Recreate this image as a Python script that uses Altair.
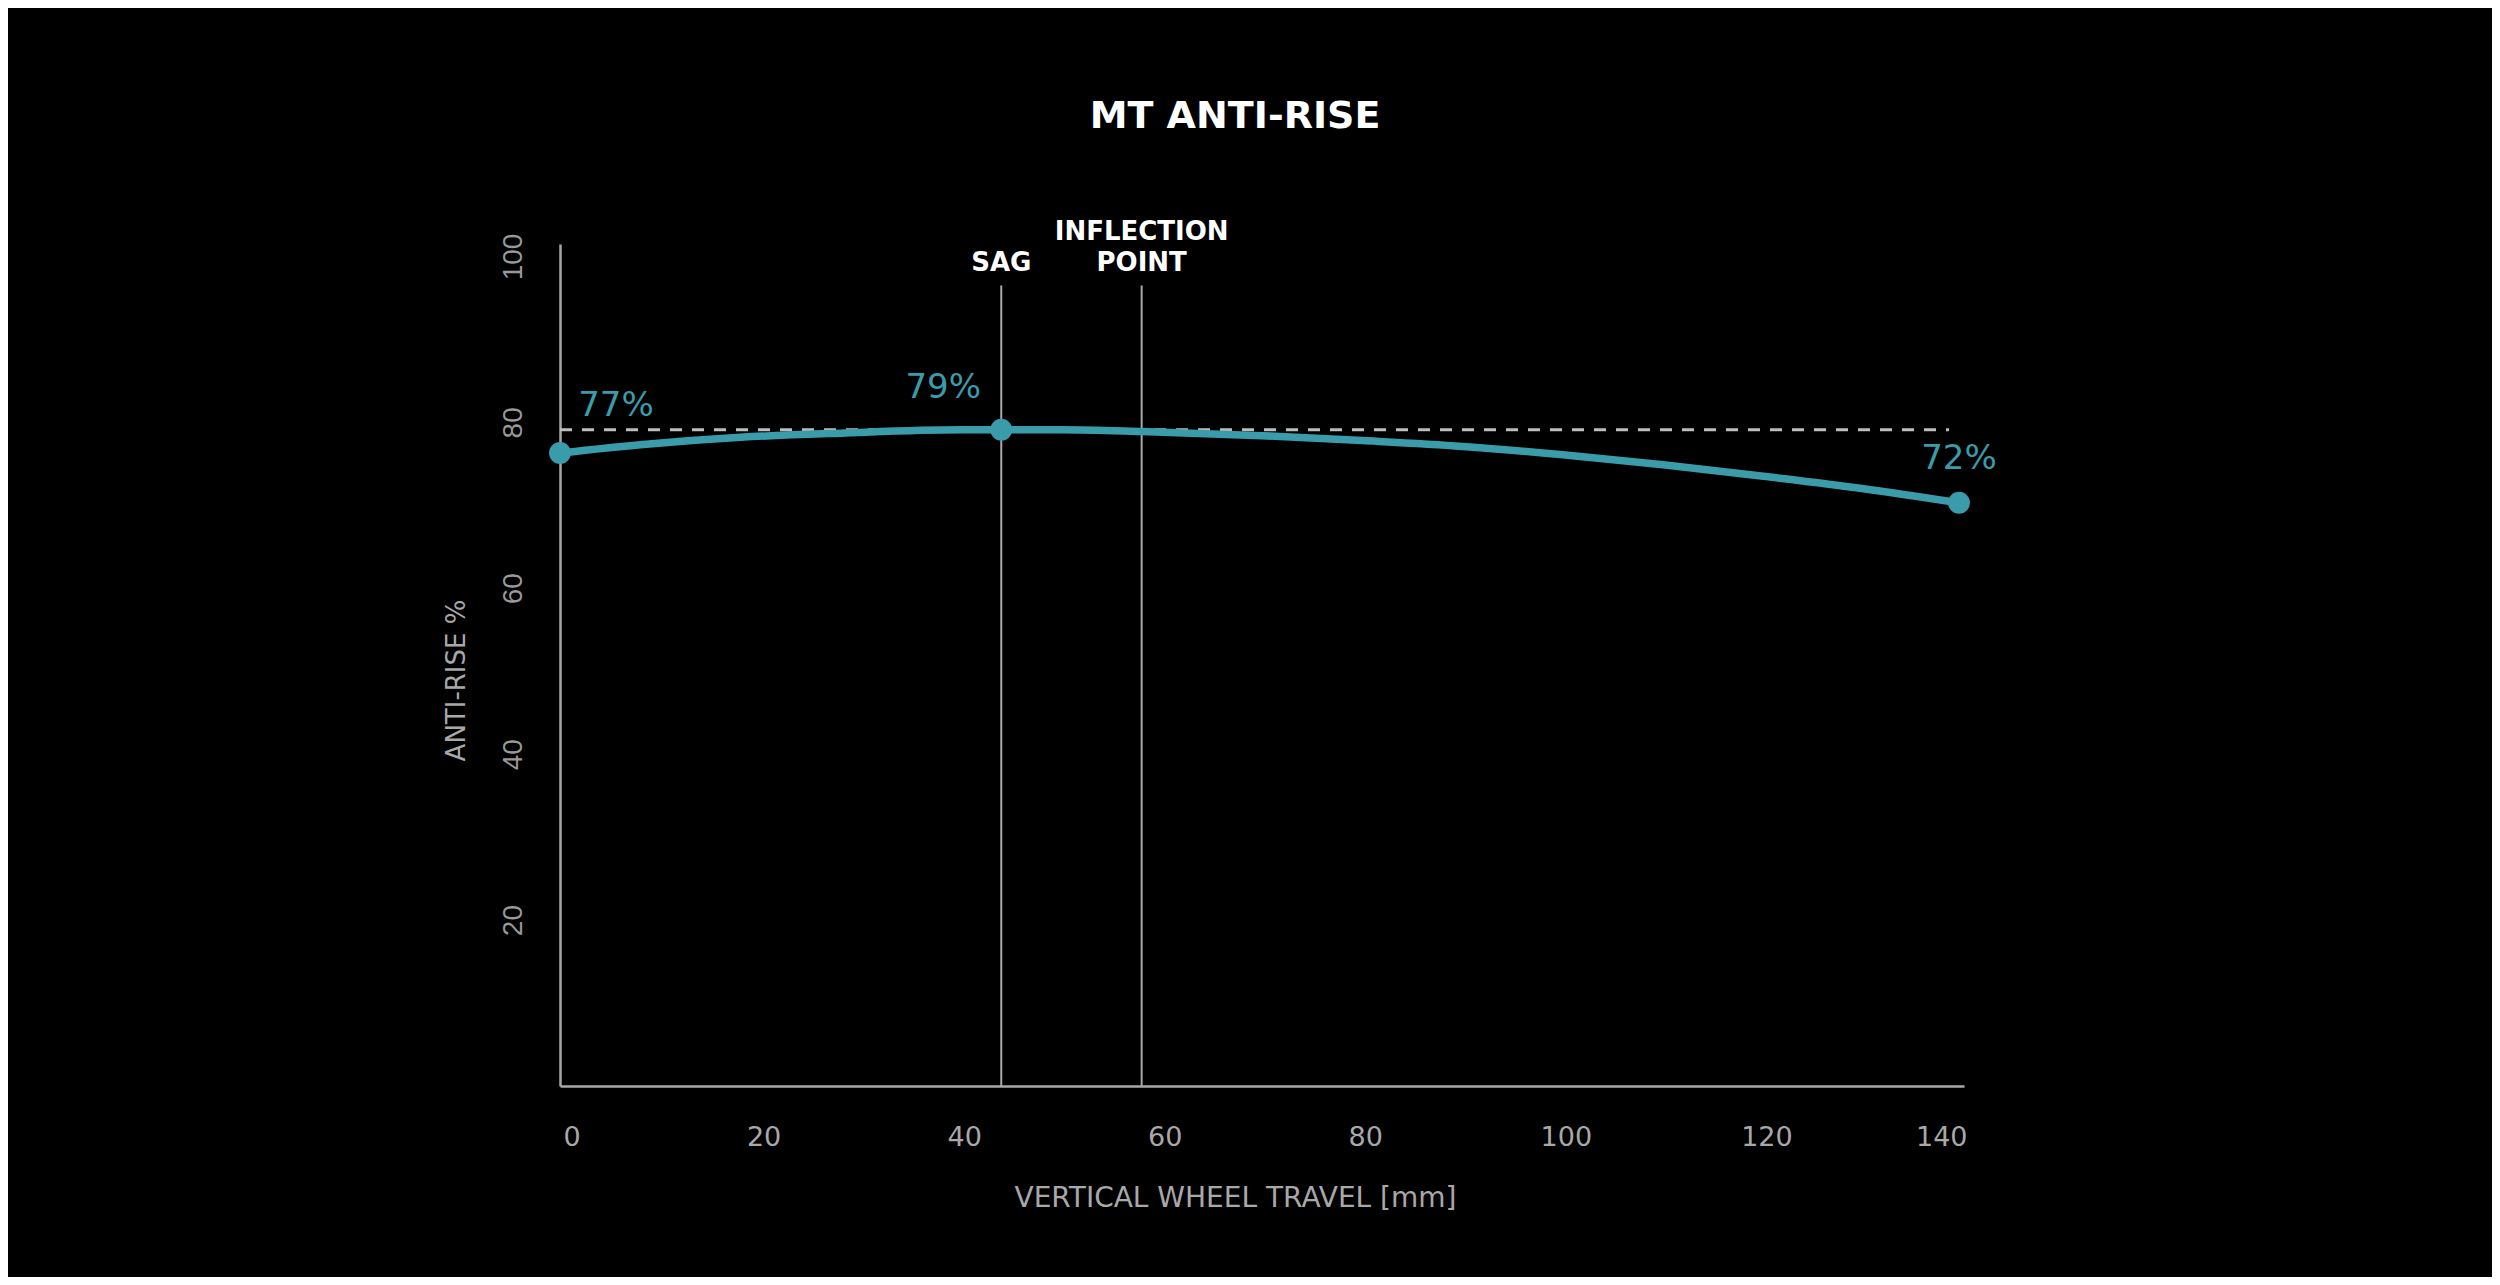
import altair as alt
import pandas as pd

# ---- data ----
travel = [0, 8, 18, 28, 40, 44, 50, 58, 70, 80, 90, 100, 110, 120, 130, 139.5]
anti_rise = [76.3, 77.3, 78.2, 78.7, 79.1, 79.1, 79.1, 78.9, 78.4, 77.8, 77.1, 76.1, 74.9, 73.5, 72.0, 70.3]

key_travel = [0, 44, 139.5]
key_value = [76.3, 79.1, 70.3]
key_label = ["77%", "79%", "72%"]

marker_travel = [44, 58]
marker_top = [96.5, 96.5]
marker_line1 = ["", "INFLECTION"]
marker_line2 = ["SAG", "POINT"]

ref_level = [79.1]
ref_start = [0]
ref_end = [138.5]

x_ticks = [0, 20, 40, 60, 80, 100, 120, 140]
y_ticks = [20, 40, 60, 80, 100]

TEAL = "#3a9caa"
GRAY = "#a8a8a8"

curve_df = pd.DataFrame({"travel": travel, "anti_rise": anti_rise})
key_df = pd.DataFrame({"travel": key_travel, "anti_rise": key_value, "label": key_label})
marker_df = pd.DataFrame({"travel": marker_travel, "top": marker_top,
                          "line1": marker_line1, "line2": marker_line2})
ref_df = pd.DataFrame({"x0": ref_start, "x1": ref_end, "level": ref_level})

x_scale = alt.Scale(domain=[0, 140], nice=False, zero=False)
y_scale = alt.Scale(domain=[0, 101.5], nice=False)

x_axis = alt.Axis(
    values=x_ticks, title="VERTICAL WHEEL TRAVEL [mm]", grid=False, ticks=False,
    domainColor=GRAY, domainWidth=2.5, labelColor=GRAY, labelFont="DejaVu Sans",
    labelFontSize=27, labelPadding=38, labelOffset=3, titleColor=GRAY,
    titleFont="DejaVu Sans", titleFontSize=28, titleFontWeight="normal",
    titlePadding=34, titleX=675,
)
y_axis = alt.Axis(
    values=y_ticks, title="ANTI-RISE %", grid=False, ticks=False,
    domainColor=GRAY, domainWidth=2.5, labelColor="#999999", labelFont="Liberation Sans",
    labelFontSize=28, labelAngle=270, labelAlign="center", labelBaseline="middle",
    labelPadding=47, titleColor=GRAY, titleFont="DejaVu Sans", titleFontSize=26,
    titleFontWeight="normal", titlePadding=30, titleY=436,
)

markers = alt.Chart(marker_df).mark_rule(color=GRAY, strokeWidth=2).encode(
    x=alt.X("travel:Q", scale=x_scale, axis=x_axis),
    y=alt.Y("top:Q", scale=y_scale, axis=y_axis),
    y2=alt.datum(0),
)

def marker_text(field, dy):
    return alt.Chart(marker_df).mark_text(
        color="white", font="DejaVu Sans", fontWeight="bold", fontSize=26,
        baseline="bottom", align="center", dy=dy,
    ).encode(
        x=alt.X("travel:Q", scale=x_scale),
        y=alt.Y("top:Q", scale=y_scale),
        text=f"{field}:N",
    )

marker_labels = marker_text("line2", -9) + marker_text("line1", -40)

ref_line = alt.Chart(ref_df).mark_rule(color="#bdbdbd", strokeWidth=3, strokeDash=[12, 10]).encode(
    x=alt.X("x0:Q", scale=x_scale),
    x2="x1:Q",
    y=alt.Y("level:Q", scale=y_scale),
)

curve = alt.Chart(curve_df).mark_line(
    color=TEAL, strokeWidth=7.5, interpolate="monotone", strokeCap="round"
).encode(
    x=alt.X("travel:Q", scale=x_scale),
    y=alt.Y("anti_rise:Q", scale=y_scale),
)

points = alt.Chart(key_df).mark_circle(color=TEAL, size=480, opacity=1).encode(
    x=alt.X("travel:Q", scale=x_scale),
    y=alt.Y("anti_rise:Q", scale=y_scale),
)

def key_text(label, dx, dy):
    return alt.Chart(key_df).transform_filter(alt.datum.label == label).mark_text(
        color=TEAL, font="DejaVu Sans", fontSize=34, align="center",
        baseline="middle", dx=dx, dy=dy,
    ).encode(
        x=alt.X("travel:Q", scale=x_scale),
        y=alt.Y("anti_rise:Q", scale=y_scale),
        text="label:N",
    )

labels = key_text("77%", 56, -47) + key_text("79%", -58, -42) + key_text("72%", 0, -44)

chart = alt.layer(markers, marker_labels, ref_line, curve, points, labels).properties(
    width=1404,
    height=842,
    title=alt.TitleParams(
        "MT ANTI-RISE", color="white", font="DejaVu Sans", fontSize=38,
        fontWeight="bold", anchor="middle", dx=-27, offset=83,
    ),
    autosize=alt.AutoSizeParams(type="none"),
    padding={"left": 552, "top": 236, "right": 528, "bottom": 191},
).configure(background="#000000").configure_view(stroke=None)

chart.save("out.html", embed_options={"renderer": "svg", "actions": False})
